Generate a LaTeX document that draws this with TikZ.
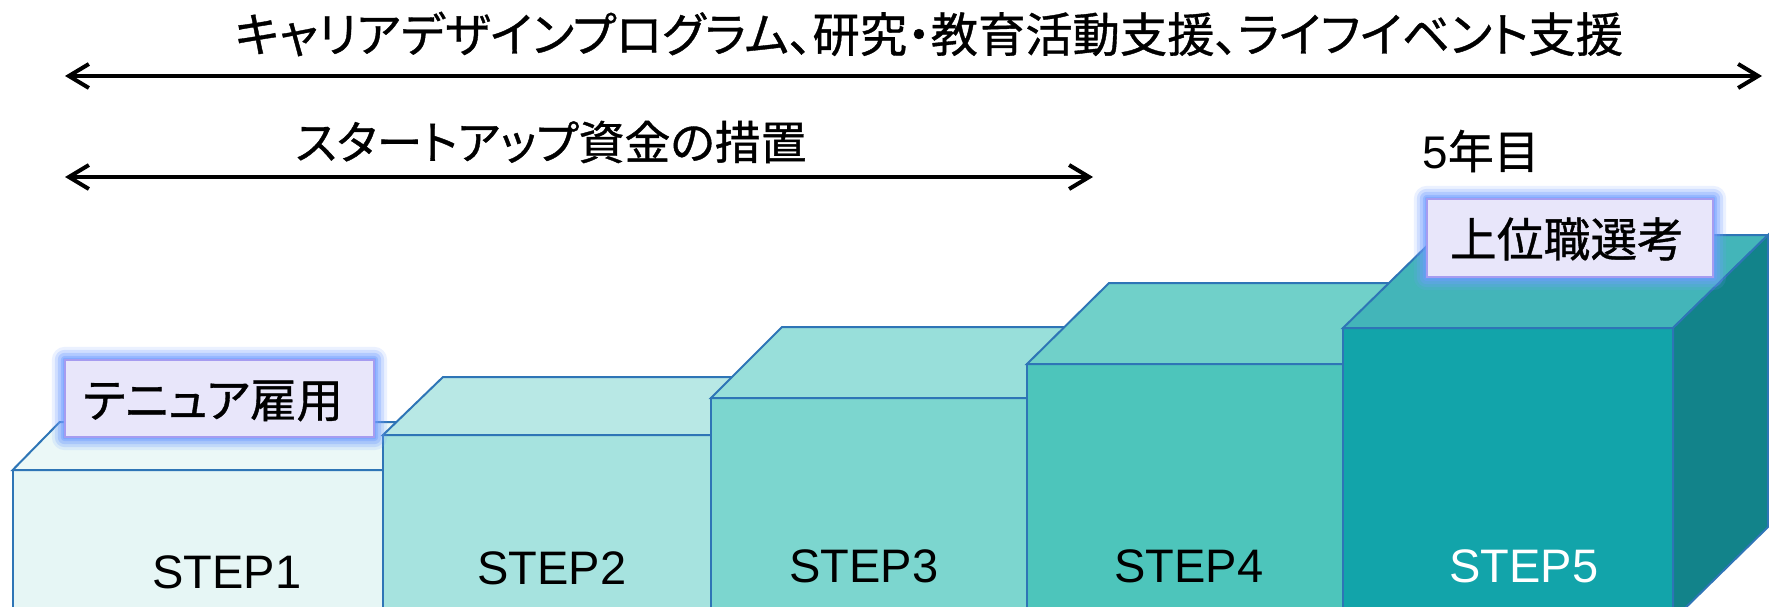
\documentclass[tikz,border=0pt]{standalone}
\usepackage{fontspec}
\usepackage{graphicx}
\setmainfont{Liberation Sans}
\newfontfamily\jp[RawFeature=+palt, FakeBold=0.8]{Noto Sans CJK JP}
\usetikzlibrary{arrows.meta,calc}
\definecolor{edgeblue}{HTML}{2E75B6}
\definecolor{fA}{HTML}{E6F6F5}\definecolor{tA}{HTML}{EBF8F7}
\definecolor{fB}{HTML}{A6E3DF}\definecolor{tB}{HTML}{B8E8E5}
\definecolor{fC}{HTML}{7CD6CF}\definecolor{tC}{HTML}{98DFDA}
\definecolor{fD}{HTML}{4DC5BB}\definecolor{tD}{HTML}{70D0C9}
\definecolor{fE}{HTML}{12A4AA}\definecolor{tE}{HTML}{43B5B9}\definecolor{rE}{HTML}{12838A}
\definecolor{tagfill}{HTML}{E8E6FA}
\definecolor{tagborder}{HTML}{A69CF0}
\definecolor{glowblue}{HTML}{6F9CFF}
\tikzset{
  face/.style={draw=edgeblue, line width=2pt, line join=miter},
  jptext/.style={font=\jp\fontsize{46}{54}\selectfont, inner sep=0pt},
  steptext/.style={font=\fontsize{47}{56}\selectfont, inner sep=0pt},
  tagbox/.style={draw=tagborder, line width=2pt, fill=tagfill, inner sep=0pt},
  spanarrow/.style={line width=4pt,
    {Straight Barb[length=20pt,width=24pt,line width=4pt]}-{Straight Barb[length=20pt,width=24pt,line width=4pt]}},
}
% #1 xl, #2 xr, #3 yt, #4 dx, #5 dy, #6 front, #7 top, #8 right
\newcommand\drawstepbox[8]{%
  \fill[#6] (#1,#3) rectangle (#2,620);
  \draw[face] (#1,620) -- (#1,#3) -- (#2,#3) -- (#2,620);
  \draw[face, fill=#7] (#1,#3) -- ({#1+#4},{#3-#5}) -- ({#2+#4},{#3-#5}) -- (#2,#3) -- cycle;
  \draw[face, fill=#8] (#2,#3) -- ({#2+#4},{#3-#5}) -- ({#2+#4},{620-#5}) -- (#2,620) -- cycle;
}
\newcommand\glowaround[1]{%
  \foreach \r/\o in {13/0.14, 10/0.22, 7/0.3, 4/0.4, 2/0.5} {
    \fill[glowblue, opacity=\o, rounded corners=\r pt]
      ($(#1.south west)+(-\r,\r)$) rectangle ($(#1.north east)+(\r,-\r)$);
  }%
}
\begin{document}
\begin{tikzpicture}[x=1pt, y=-1pt]
\useasboundingbox (0,0) rectangle (1769,607);
\clip (0,0) rectangle (1769,607);

% arrows and their captions
\node[jptext] (career) at (929,34) {\resizebox{1388pt}{!}{キャリアデザインプログラム、研究・教育活動支援、ライフイベント支援}};
\coordinate (cL) at (65,76);
\coordinate (cR) at (1762,76);
\draw[spanarrow] (cL) -- (cR);

\node[jptext] (startup) at (551,142) {\resizebox{511pt}{!}{スタートアップ資金の措置}};
\coordinate (sL) at (65,177);
\coordinate (sR) at (1093,177);
\draw[spanarrow] (sL) -- (sR);

\node[inner sep=0pt, font=\fontsize{46}{52}\selectfont] (year5) at (1481,151) {\resizebox{117pt}{!}{5{\jp 年目}}};

% steps
\drawstepbox{12.7}{383}{470}{47}{48}{fA}{tA}{fA}
\drawstepbox{383}{711}{435}{60}{58}{fB}{tB}{fB}
\drawstepbox{711}{1027}{398}{71}{71}{fC}{tC}{fC}
\drawstepbox{1027}{1343}{364}{82}{81}{fD}{tD}{fD}
\drawstepbox{1343}{1673}{328}{95}{93}{fE}{tE}{rE}

\node[steptext] (s1) at (227,572) {STEP1};
\node[steptext] (s2) at (552,568) {STEP2};
\node[steptext] (s3) at (864,566) {STEP3};
\node[steptext] (s4) at (1189,566) {STEP4};
\node[steptext, text=white] (s5) at (1524,566) {STEP5};

% tags
\path (219.5,398.5) node[minimum width=309pt, minimum height=77pt, inner sep=0pt] (tenureg) {};
\glowaround{tenureg}
\node[tagbox, minimum width=309pt, minimum height=77pt] (tenure) at (219.5,398.5) {};
\node[jptext] (tenuret) at (213,401) {\resizebox{260pt}{!}{テニュア雇用}};

\path (1570,238) node[minimum width=286pt, minimum height=78pt, inner sep=0pt] (promog) {};
\glowaround{promog}
\node[tagbox, minimum width=286pt, minimum height=78pt] (promo) at (1570,238) {};
\node[jptext] (promot) at (1567,239) {\resizebox{234pt}{!}{上位職選考}};
\end{tikzpicture}
\end{document}
